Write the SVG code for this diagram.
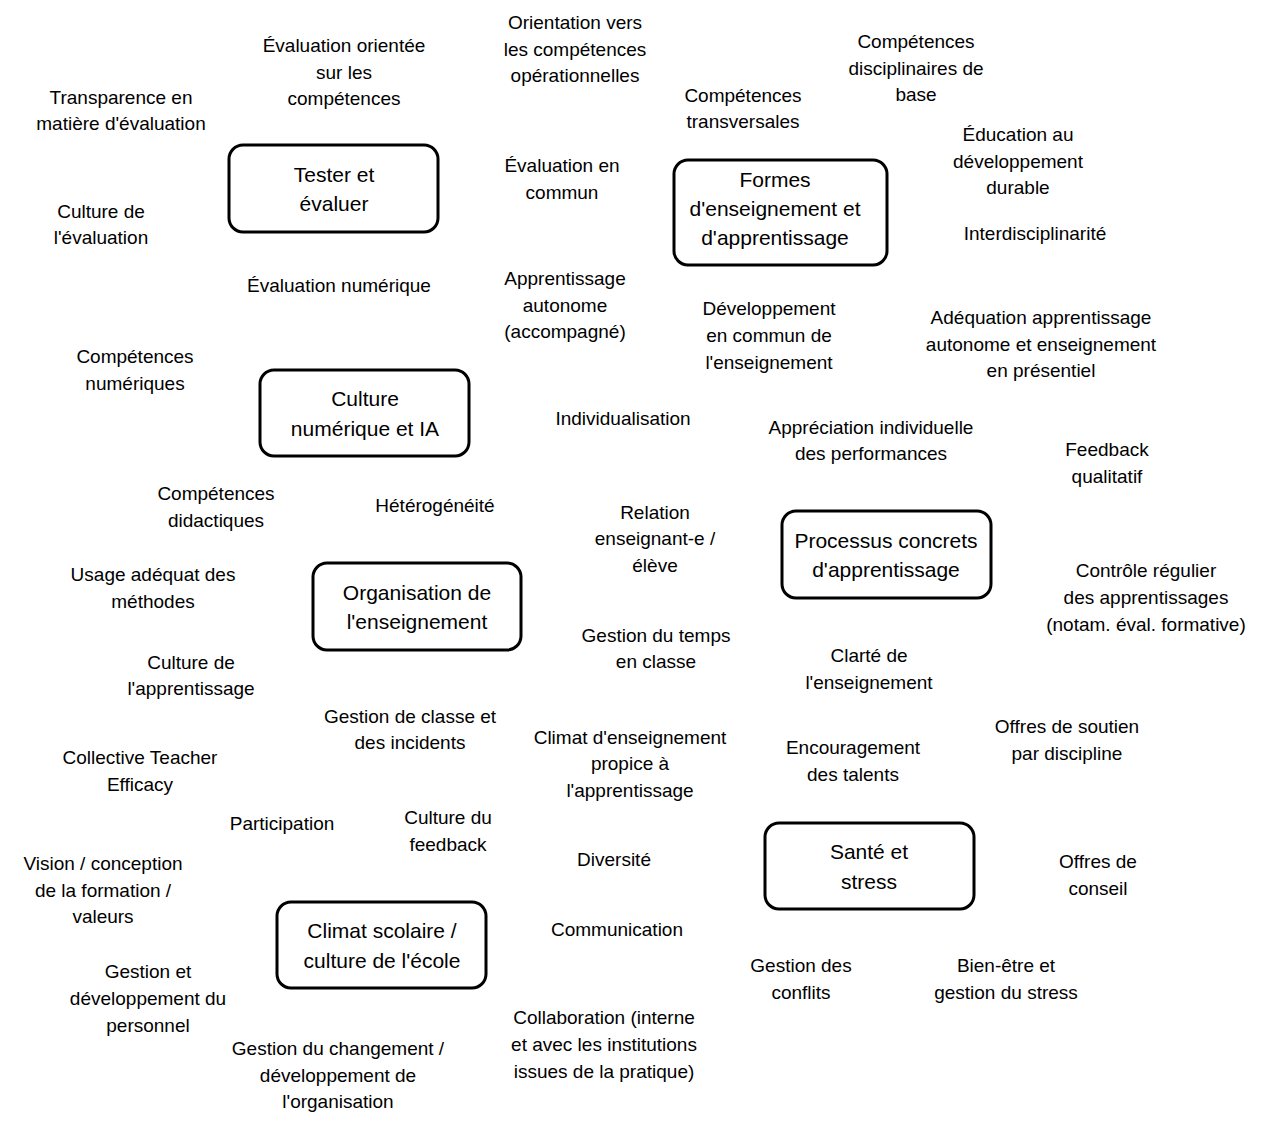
<svg xmlns="http://www.w3.org/2000/svg" width="1266" height="1125" viewBox="0 0 1266 1125">
<style>
text{font-family:"Liberation Sans",Arial,sans-serif;fill:#000;text-anchor:middle}
.t{font-size:19px}
.b{font-size:21px}
.box{fill:#fff;stroke:#000;stroke-width:3}
</style>
<rect width="1266" height="1125" fill="#fff"/>
<g id="nodes">
<g id="tester"><rect class="box" x="229" y="145" width="209" height="87" rx="14"/><text class="b" x="334" y="182">Tester et</text><text class="b" x="334" y="211">évaluer</text></g>
<g id="formes"><rect class="box" x="674" y="160" width="213" height="105" rx="14"/><text class="b" x="775" y="187">Formes</text><text class="b" x="775" y="216">d'enseignement et</text><text class="b" x="775" y="245">d'apprentissage</text></g>
<g id="culture-num"><rect class="box" x="260" y="370" width="209" height="86" rx="14"/><text class="b" x="365" y="406">Culture</text><text class="b" x="365" y="436">numérique et IA</text></g>
<g id="processus"><rect class="box" x="782" y="511" width="209" height="87" rx="14"/><text class="b" x="886" y="548">Processus concrets</text><text class="b" x="886" y="577">d'apprentissage</text></g>
<g id="organisation"><rect class="box" x="313" y="563" width="208" height="87" rx="14"/><text class="b" x="417" y="600">Organisation de</text><text class="b" x="417" y="629">l'enseignement</text></g>
<g id="sante"><rect class="box" x="765" y="823" width="209" height="86" rx="14"/><text class="b" x="869" y="859">Santé et</text><text class="b" x="869" y="889">stress</text></g>
<g id="climat"><rect class="box" x="277" y="902" width="209" height="86" rx="14"/><text class="b" x="382" y="938">Climat scolaire /</text><text class="b" x="382" y="968">culture de l'école</text></g>

<g id="l1"><text class="t" x="344" y="52">Évaluation orientée</text><text class="t" x="344" y="79">sur les</text><text class="t" x="344" y="105">compétences</text></g>
<g id="l2"><text class="t" x="575" y="29">Orientation vers</text><text class="t" x="575" y="56">les compétences</text><text class="t" x="575" y="82">opérationnelles</text></g>
<g id="l3"><text class="t" x="916" y="48">Compétences</text><text class="t" x="916" y="75">disciplinaires de</text><text class="t" x="916" y="101">base</text></g>
<g id="l4"><text class="t" x="121" y="104">Transparence en</text><text class="t" x="121" y="130">matière d'évaluation</text></g>
<g id="l5"><text class="t" x="743" y="102">Compétences</text><text class="t" x="743" y="128">transversales</text></g>
<g id="l6"><text class="t" x="1018" y="141">Éducation au</text><text class="t" x="1018" y="168">développement</text><text class="t" x="1018" y="194">durable</text></g>
<g id="l7"><text class="t" x="562" y="172">Évaluation en</text><text class="t" x="562" y="199">commun</text></g>
<g id="l8"><text class="t" x="101" y="218">Culture de</text><text class="t" x="101" y="244">l'évaluation</text></g>
<g id="l9"><text class="t" x="1035" y="240">Interdisciplinarité</text></g>
<g id="l10"><text class="t" x="339" y="292">Évaluation numérique</text></g>
<g id="l11"><text class="t" x="565" y="285">Apprentissage</text><text class="t" x="565" y="312">autonome</text><text class="t" x="565" y="338">(accompagné)</text></g>
<g id="l12"><text class="t" x="769" y="315">Développement</text><text class="t" x="769" y="342">en commun de</text><text class="t" x="769" y="369">l'enseignement</text></g>
<g id="l13"><text class="t" x="1041" y="324">Adéquation apprentissage</text><text class="t" x="1041" y="351">autonome et enseignement</text><text class="t" x="1041" y="377">en présentiel</text></g>
<g id="l14"><text class="t" x="135" y="363">Compétences</text><text class="t" x="135" y="390">numériques</text></g>
<g id="l15"><text class="t" x="623" y="425">Individualisation</text></g>
<g id="l16"><text class="t" x="871" y="434">Appréciation individuelle</text><text class="t" x="871" y="460">des performances</text></g>
<g id="l17"><text class="t" x="1107" y="456">Feedback</text><text class="t" x="1107" y="483">qualitatif</text></g>
<g id="l18"><text class="t" x="216" y="500">Compétences</text><text class="t" x="216" y="527">didactiques</text></g>
<g id="l19"><text class="t" x="435" y="512">Hétérogénéité</text></g>
<g id="l20"><text class="t" x="655" y="519">Relation</text><text class="t" x="655" y="545">enseignant-e /</text><text class="t" x="655" y="572">élève</text></g>
<g id="l21"><text class="t" x="153" y="581">Usage adéquat des</text><text class="t" x="153" y="608">méthodes</text></g>
<g id="l22"><text class="t" x="1146" y="577">Contrôle régulier</text><text class="t" x="1146" y="604">des apprentissages</text><text class="t" x="1146" y="631">(notam. éval. formative)</text></g>
<g id="l23"><text class="t" x="656" y="642">Gestion du temps</text><text class="t" x="656" y="668">en classe</text></g>
<g id="l24"><text class="t" x="191" y="669">Culture de</text><text class="t" x="191" y="695">l'apprentissage</text></g>
<g id="l25"><text class="t" x="869" y="662">Clarté de</text><text class="t" x="869" y="689">l'enseignement</text></g>
<g id="l26"><text class="t" x="410" y="723">Gestion de classe et</text><text class="t" x="410" y="749">des incidents</text></g>
<g id="l27"><text class="t" x="1067" y="733">Offres de soutien</text><text class="t" x="1067" y="760">par discipline</text></g>
<g id="l28"><text class="t" x="630" y="744">Climat d'enseignement</text><text class="t" x="630" y="770">propice à</text><text class="t" x="630" y="797">l'apprentissage</text></g>
<g id="l29"><text class="t" x="853" y="754">Encouragement</text><text class="t" x="853" y="781">des talents</text></g>
<g id="l30"><text class="t" x="140" y="764">Collective Teacher</text><text class="t" x="140" y="791">Efficacy</text></g>
<g id="l31"><text class="t" x="282" y="830">Participation</text></g>
<g id="l32"><text class="t" x="448" y="824">Culture du</text><text class="t" x="448" y="851">feedback</text></g>
<g id="l33"><text class="t" x="614" y="866">Diversité</text></g>
<g id="l34"><text class="t" x="103" y="870">Vision / conception</text><text class="t" x="103" y="897">de la formation /</text><text class="t" x="103" y="923">valeurs</text></g>
<g id="l35"><text class="t" x="1098" y="868">Offres de</text><text class="t" x="1098" y="895">conseil</text></g>
<g id="l36"><text class="t" x="617" y="936">Communication</text></g>
<g id="l37"><text class="t" x="801" y="972">Gestion des</text><text class="t" x="801" y="999">conflits</text></g>
<g id="l38"><text class="t" x="1006" y="972">Bien-être et</text><text class="t" x="1006" y="999">gestion du stress</text></g>
<g id="l39"><text class="t" x="148" y="978">Gestion et</text><text class="t" x="148" y="1005">développement du</text><text class="t" x="148" y="1032">personnel</text></g>
<g id="l40"><text class="t" x="604" y="1024">Collaboration (interne</text><text class="t" x="604" y="1051">et avec les institutions</text><text class="t" x="604" y="1078">issues de la pratique)</text></g>
<g id="l41"><text class="t" x="338" y="1055">Gestion du changement /</text><text class="t" x="338" y="1082">développement de</text><text class="t" x="338" y="1108">l'organisation</text></g>
</g>
<g id="connectors"></g>
</svg>
